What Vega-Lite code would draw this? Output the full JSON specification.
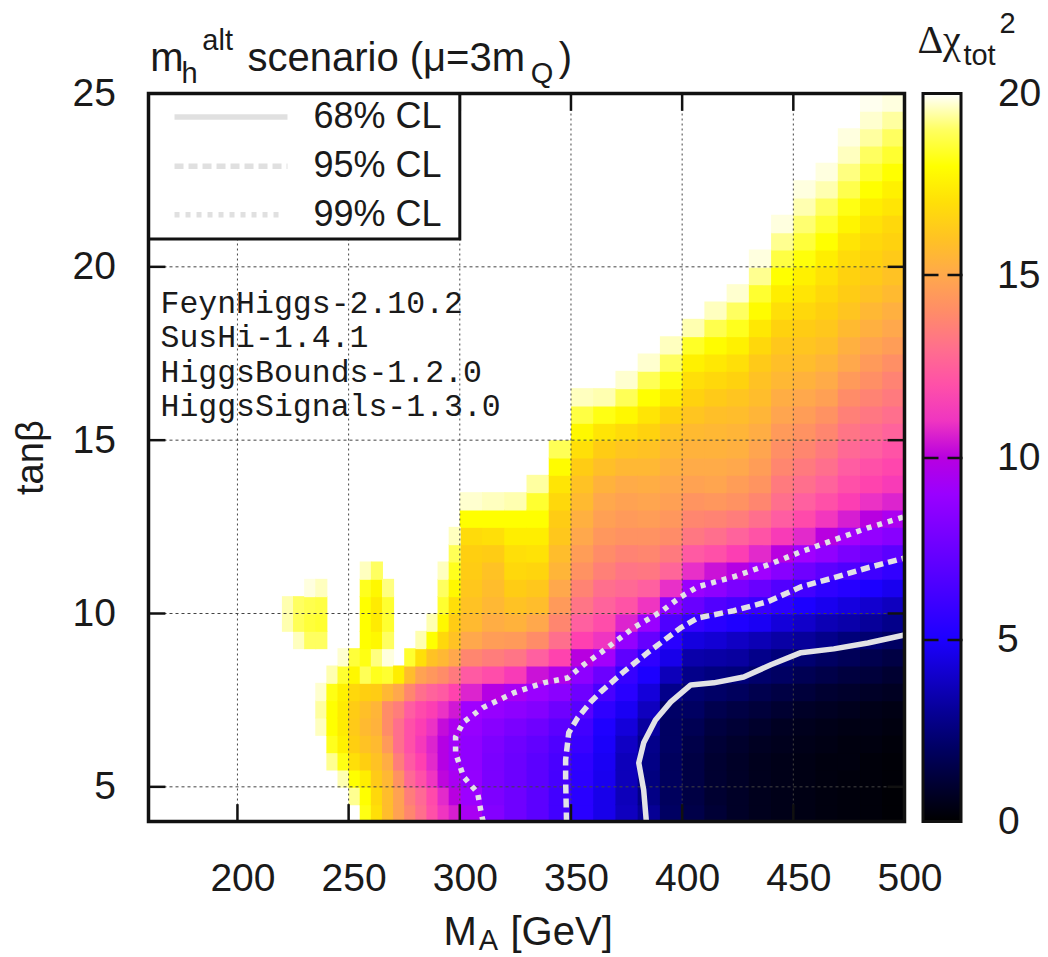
{"$schema":"https://vega.github.io/schema/vega-lite/v6.json","width":756,"height":728,"autosize":"none","padding":{"left":148.5,"top":93.5,"right":143.5,"bottom":135.5},"background":"white","config":{"view":{"stroke":null},"font":"Liberation Sans"},"resolve":{"axis":{"y":"independent"}},
"datasets":{
"fine":[
{"m":220,"t":9.5,"c":19.5},{"m":220,"t":10,"c":19.5},
{"m":225,"t":9,"c":19.6},{"m":225,"t":9.5,"c":18.9},{"m":225,"t":10,"c":19},
{"m":230,"t":9,"c":19},{"m":230,"t":9.5,"c":18.6},{"m":230,"t":10,"c":18.8},{"m":230,"t":10.5,"c":19.8},
{"m":235,"t":9,"c":19},{"m":235,"t":9.5,"c":18.5},{"m":235,"t":10,"c":18.7},{"m":235,"t":10.5,"c":19.6},
{"m":235,"t":6.5,"c":19.6},{"m":235,"t":7,"c":19.4},{"m":235,"t":7.5,"c":19.7},
{"m":240,"t":5.5,"c":19.3},{"m":240,"t":6,"c":18.3},{"m":240,"t":6.5,"c":18},{"m":240,"t":7,"c":18},{"m":240,"t":7.5,"c":18.2},{"m":240,"t":8,"c":19.5},
{"m":245,"t":5,"c":19.5},{"m":245,"t":5.5,"c":18.2},{"m":245,"t":6,"c":17.6},{"m":245,"t":6.5,"c":17.4},{"m":245,"t":7,"c":17.4},{"m":245,"t":7.5,"c":17.6},{"m":245,"t":8,"c":18.5},{"m":245,"t":8.5,"c":19.7},
{"m":250,"t":4.5,"c":19.3},{"m":250,"t":5,"c":18},{"m":250,"t":5.5,"c":17},{"m":250,"t":6,"c":16.5},{"m":250,"t":6.5,"c":16.3},{"m":250,"t":7,"c":16.4},{"m":250,"t":7.5,"c":16.8},{"m":250,"t":8,"c":17.8},{"m":250,"t":8.5,"c":18.6},
{"m":255,"t":4,"c":18.2},{"m":255,"t":4.5,"c":18},{"m":255,"t":5,"c":17.5},{"m":255,"t":5.5,"c":16.5},{"m":255,"t":6,"c":16},{"m":255,"t":6.5,"c":15.7},{"m":255,"t":7,"c":15.9},{"m":255,"t":7.5,"c":16.5},{"m":255,"t":8,"c":18.9},{"m":255,"t":8.5,"c":18.2},{"m":255,"t":9,"c":18},{"m":255,"t":9.5,"c":18},{"m":255,"t":10,"c":18},{"m":255,"t":10.5,"c":18.3},{"m":255,"t":11,"c":19.6},
{"m":260,"t":4,"c":17},{"m":260,"t":4.5,"c":16.8},{"m":260,"t":5,"c":16.3},{"m":260,"t":5.5,"c":16},{"m":260,"t":6,"c":15.7},{"m":260,"t":6.5,"c":15.4},{"m":260,"t":7,"c":15.5},{"m":260,"t":7.5,"c":16.4},{"m":260,"t":8,"c":18.3},{"m":260,"t":8.5,"c":19.2},{"m":260,"t":9,"c":17.8},{"m":260,"t":9.5,"c":17.4},{"m":260,"t":10,"c":17.4},{"m":260,"t":10.5,"c":17.8},{"m":260,"t":11,"c":19},
{"m":265,"t":4,"c":15.8},{"m":265,"t":4.5,"c":15.8},{"m":265,"t":5,"c":15.6},{"m":265,"t":5.5,"c":15.2},{"m":265,"t":6,"c":14.5},{"m":265,"t":6.5,"c":14},{"m":265,"t":7,"c":14},{"m":265,"t":7.5,"c":15.6},{"m":265,"t":8,"c":18.5},{"m":265,"t":8.5,"c":19.8},{"m":265,"t":9,"c":19},{"m":265,"t":9.5,"c":18.5},{"m":265,"t":10,"c":18.5},{"m":265,"t":10.5,"c":19.2},
{"m":270,"t":4,"c":14.8},{"m":270,"t":4.5,"c":14.8},{"m":270,"t":5,"c":14.2},{"m":270,"t":5.5,"c":13.5},{"m":270,"t":6,"c":13},{"m":270,"t":6.5,"c":13},{"m":270,"t":7,"c":13.5},{"m":270,"t":7.5,"c":15},{"m":270,"t":8,"c":17.5},
{"m":275,"t":4,"c":13.8},{"m":275,"t":4.5,"c":13.5},{"m":275,"t":5,"c":12.8},{"m":275,"t":5.5,"c":12.3},{"m":275,"t":6,"c":12},{"m":275,"t":6.5,"c":12},{"m":275,"t":7,"c":12.4},{"m":275,"t":7.5,"c":13.8},{"m":275,"t":8,"c":15.8},{"m":275,"t":8.5,"c":18.5},
{"m":280,"t":4,"c":13},{"m":280,"t":4.5,"c":12.8},{"m":280,"t":5,"c":12},{"m":280,"t":5.5,"c":11.5},{"m":280,"t":6,"c":11.2},{"m":280,"t":6.5,"c":11.4},{"m":280,"t":7,"c":11.8},{"m":280,"t":7.5,"c":13},{"m":280,"t":8,"c":14.8},{"m":280,"t":8.5,"c":17},{"m":280,"t":9,"c":19.5},
{"m":285,"t":4,"c":12},{"m":285,"t":4.5,"c":11.8},{"m":285,"t":5,"c":11},{"m":285,"t":5.5,"c":10.7},{"m":285,"t":6,"c":10.6},{"m":285,"t":6.5,"c":10.9},{"m":285,"t":7,"c":11.4},{"m":285,"t":7.5,"c":12.6},{"m":285,"t":8,"c":14.4},{"m":285,"t":8.5,"c":16},{"m":285,"t":9,"c":18},{"m":285,"t":9.5,"c":19.5},
{"m":290,"t":4,"c":11},{"m":290,"t":4.5,"c":10.7},{"m":290,"t":5,"c":10.1},{"m":290,"t":5.5,"c":9.9},{"m":290,"t":6,"c":9.9},{"m":290,"t":6.5,"c":10.2},{"m":290,"t":7,"c":10.9},{"m":290,"t":7.5,"c":12.3},{"m":290,"t":8,"c":14},{"m":290,"t":8.5,"c":15.6},{"m":290,"t":9,"c":16.8},{"m":290,"t":9.5,"c":17.8},{"m":290,"t":10,"c":18.5},{"m":290,"t":10.5,"c":19},{"m":290,"t":11,"c":19.6},
{"m":295,"t":4,"c":10.5},{"m":295,"t":4.5,"c":10},{"m":295,"t":5,"c":9.5},{"m":295,"t":5.5,"c":9.3},{"m":295,"t":6,"c":9.3},{"m":295,"t":6.5,"c":9.6},{"m":295,"t":7,"c":10.4},{"m":295,"t":7.5,"c":11.6},{"m":295,"t":8,"c":13.4},{"m":295,"t":8.5,"c":15},{"m":295,"t":9,"c":16},{"m":295,"t":9.5,"c":16.4},{"m":295,"t":10,"c":17},{"m":295,"t":10.5,"c":17.8},{"m":295,"t":11,"c":18.3},{"m":295,"t":11.5,"c":18.9},{"m":295,"t":12,"c":19.6}
],
"coarse":[
{"m":300,"t":4,"c":9.5},{"m":300,"t":4.5,"c":9.1},{"m":300,"t":5,"c":8.8},{"m":300,"t":5.5,"c":8.7},{"m":300,"t":6,"c":8.7},{"m":300,"t":6.5,"c":8.9},{"m":300,"t":7,"c":9.2},{"m":300,"t":7.5,"c":10.6},{"m":300,"t":8,"c":12.3},{"m":300,"t":8.5,"c":13.8},{"m":300,"t":9,"c":15},{"m":300,"t":9.5,"c":15.7},{"m":300,"t":10,"c":16},{"m":300,"t":10.5,"c":16.2},{"m":300,"t":11,"c":16.4},{"m":300,"t":11.5,"c":16.5},{"m":300,"t":12,"c":16.9},{"m":300,"t":12.5,"c":18},{"m":300,"t":13,"c":19.7},
{"m":310,"t":4,"c":8.3},{"m":310,"t":4.5,"c":8.1},{"m":310,"t":5,"c":8},{"m":310,"t":5.5,"c":8},{"m":310,"t":6,"c":8.1},{"m":310,"t":6.5,"c":8.4},{"m":310,"t":7,"c":8.9},{"m":310,"t":7.5,"c":9.9},{"m":310,"t":8,"c":11.9},{"m":310,"t":8.5,"c":13.5},{"m":310,"t":9,"c":14.6},{"m":310,"t":9.5,"c":15.2},{"m":310,"t":10,"c":15.6},{"m":310,"t":10.5,"c":15.8},{"m":310,"t":11,"c":16},{"m":310,"t":11.5,"c":16.4},{"m":310,"t":12,"c":17},{"m":310,"t":12.5,"c":18},{"m":310,"t":13,"c":19.6},
{"m":320,"t":4,"c":7.6},{"m":320,"t":4.5,"c":7.6},{"m":320,"t":5,"c":7.5},{"m":320,"t":5.5,"c":7.5},{"m":320,"t":6,"c":7.6},{"m":320,"t":6.5,"c":8},{"m":320,"t":7,"c":8.6},{"m":320,"t":7.5,"c":9.5},{"m":320,"t":8,"c":11.3},{"m":320,"t":8.5,"c":13.2},{"m":320,"t":9,"c":14.5},{"m":320,"t":9.5,"c":15.4},{"m":320,"t":10,"c":16},{"m":320,"t":10.5,"c":16.4},{"m":320,"t":11,"c":16.8},{"m":320,"t":11.5,"c":17},{"m":320,"t":12,"c":17.5},{"m":320,"t":12.5,"c":18},{"m":320,"t":13,"c":19.5},
{"m":330,"t":4,"c":7},{"m":330,"t":4.5,"c":7},{"m":330,"t":5,"c":7},{"m":330,"t":5.5,"c":7},{"m":330,"t":6,"c":7.2},{"m":330,"t":6.5,"c":7.6},{"m":330,"t":7,"c":8.3},{"m":330,"t":7.5,"c":9},{"m":330,"t":8,"c":10.3},{"m":330,"t":8.5,"c":12.5},{"m":330,"t":9,"c":14},{"m":330,"t":9.5,"c":15},{"m":330,"t":10,"c":15.8},{"m":330,"t":10.5,"c":16.2},{"m":330,"t":11,"c":16.7},{"m":330,"t":11.5,"c":17.1},{"m":330,"t":12,"c":17.5},{"m":330,"t":12.5,"c":18},{"m":330,"t":13,"c":18.5},{"m":330,"t":13.5,"c":19.4},
{"m":340,"t":4,"c":6.2},{"m":340,"t":4.5,"c":6.2},{"m":340,"t":5,"c":6.3},{"m":340,"t":5.5,"c":6.4},{"m":340,"t":6,"c":6.6},{"m":340,"t":6.5,"c":7},{"m":340,"t":7,"c":7.6},{"m":340,"t":7.5,"c":8.5},{"m":340,"t":8,"c":9.8},{"m":340,"t":8.5,"c":11.6},{"m":340,"t":9,"c":13},{"m":340,"t":9.5,"c":13.8},{"m":340,"t":10,"c":14.5},{"m":340,"t":10.5,"c":15},{"m":340,"t":11,"c":15.5},{"m":340,"t":11.5,"c":15.8},{"m":340,"t":12,"c":16.2},{"m":340,"t":12.5,"c":16.4},{"m":340,"t":13,"c":16.8},{"m":340,"t":13.5,"c":17.2},{"m":340,"t":14,"c":17.9},{"m":340,"t":14.5,"c":18.9},
{"m":350,"t":4,"c":5.4},{"m":350,"t":4.5,"c":5.4},{"m":350,"t":5,"c":5.5},{"m":350,"t":5.5,"c":5.6},{"m":350,"t":6,"c":5.9},{"m":350,"t":6.5,"c":6.2},{"m":350,"t":7,"c":6.9},{"m":350,"t":7.5,"c":7.6},{"m":350,"t":8,"c":8.6},{"m":350,"t":8.5,"c":10},{"m":350,"t":9,"c":11.5},{"m":350,"t":9.5,"c":12.5},{"m":350,"t":10,"c":13.2},{"m":350,"t":10.5,"c":13.7},{"m":350,"t":11,"c":14.2},{"m":350,"t":11.5,"c":14.6},{"m":350,"t":12,"c":15},{"m":350,"t":12.5,"c":15.3},{"m":350,"t":13,"c":15.7},{"m":350,"t":13.5,"c":16},{"m":350,"t":14,"c":16.4},{"m":350,"t":14.5,"c":17},{"m":350,"t":15,"c":17.8},{"m":350,"t":15.5,"c":18.7},{"m":350,"t":16,"c":19.6},
{"m":360,"t":4,"c":4.6},{"m":360,"t":4.5,"c":4.6},{"m":360,"t":5,"c":4.7},{"m":360,"t":5.5,"c":4.8},{"m":360,"t":6,"c":4.9},{"m":360,"t":6.5,"c":5.1},{"m":360,"t":7,"c":5.6},{"m":360,"t":7.5,"c":6.4},{"m":360,"t":8,"c":7.5},{"m":360,"t":8.5,"c":9.3},{"m":360,"t":9,"c":11},{"m":360,"t":9.5,"c":11.9},{"m":360,"t":10,"c":12.6},{"m":360,"t":10.5,"c":13},{"m":360,"t":11,"c":13.6},{"m":360,"t":11.5,"c":14},{"m":360,"t":12,"c":14.4},{"m":360,"t":12.5,"c":14.7},{"m":360,"t":13,"c":15},{"m":360,"t":13.5,"c":15.4},{"m":360,"t":14,"c":15.9},{"m":360,"t":14.5,"c":16.4},{"m":360,"t":15,"c":17.2},{"m":360,"t":15.5,"c":18.2},{"m":360,"t":16,"c":19.5},
{"m":370,"t":4,"c":3.8},{"m":370,"t":4.5,"c":3.7},{"m":370,"t":5,"c":3.7},{"m":370,"t":5.5,"c":3.7},{"m":370,"t":6,"c":3.9},{"m":370,"t":6.5,"c":4.3},{"m":370,"t":7,"c":4.8},{"m":370,"t":7.5,"c":5.4},{"m":370,"t":8,"c":5.8},{"m":370,"t":8.5,"c":7.1},{"m":370,"t":9,"c":8.8},{"m":370,"t":9.5,"c":10.6},{"m":370,"t":10,"c":12.1},{"m":370,"t":10.5,"c":12.8},{"m":370,"t":11,"c":13.2},{"m":370,"t":11.5,"c":13.7},{"m":370,"t":12,"c":14.2},{"m":370,"t":12.5,"c":14.5},{"m":370,"t":13,"c":14.8},{"m":370,"t":13.5,"c":15.1},{"m":370,"t":14,"c":15.6},{"m":370,"t":14.5,"c":16.1},{"m":370,"t":15,"c":16.9},{"m":370,"t":15.5,"c":17.8},{"m":370,"t":16,"c":18.9},{"m":370,"t":16.5,"c":19.7},
{"m":380,"t":4,"c":3},{"m":380,"t":4.5,"c":2.7},{"m":380,"t":5,"c":2.6},{"m":380,"t":5.5,"c":2.7},{"m":380,"t":6,"c":2.8},{"m":380,"t":6.5,"c":3.2},{"m":380,"t":7,"c":3.8},{"m":380,"t":7.5,"c":4.3},{"m":380,"t":8,"c":5},{"m":380,"t":8.5,"c":5.6},{"m":380,"t":9,"c":7.3},{"m":380,"t":9.5,"c":9},{"m":380,"t":10,"c":11},{"m":380,"t":10.5,"c":12.5},{"m":380,"t":11,"c":13.3},{"m":380,"t":11.5,"c":13.8},{"m":380,"t":12,"c":14.2},{"m":380,"t":12.5,"c":14.6},{"m":380,"t":13,"c":14.9},{"m":380,"t":13.5,"c":15.2},{"m":380,"t":14,"c":15.6},{"m":380,"t":14.5,"c":16},{"m":380,"t":15,"c":16.6},{"m":380,"t":15.5,"c":17.2},{"m":380,"t":16,"c":18},{"m":380,"t":16.5,"c":18.9},{"m":380,"t":17,"c":19.7},
{"m":390,"t":4,"c":2},{"m":390,"t":4.5,"c":1.9},{"m":390,"t":5,"c":1.9},{"m":390,"t":5.5,"c":1.9},{"m":390,"t":6,"c":2},{"m":390,"t":6.5,"c":2},{"m":390,"t":7,"c":2.1},{"m":390,"t":7.5,"c":2.8},{"m":390,"t":8,"c":3.7},{"m":390,"t":8.5,"c":4.6},{"m":390,"t":9,"c":5.4},{"m":390,"t":9.5,"c":6.6},{"m":390,"t":10,"c":8.6},{"m":390,"t":10.5,"c":10.8},{"m":390,"t":11,"c":12.7},{"m":390,"t":11.5,"c":13.4},{"m":390,"t":12,"c":14},{"m":390,"t":12.5,"c":14.4},{"m":390,"t":13,"c":14.7},{"m":390,"t":13.5,"c":15},{"m":390,"t":14,"c":15.3},{"m":390,"t":14.5,"c":15.6},{"m":390,"t":15,"c":16},{"m":390,"t":15.5,"c":16.6},{"m":390,"t":16,"c":17.4},{"m":390,"t":16.5,"c":18.2},{"m":390,"t":17,"c":19},{"m":390,"t":17.5,"c":19.6},
{"m":400,"t":4,"c":1.5},{"m":400,"t":4.5,"c":1.4},{"m":400,"t":5,"c":1.4},{"m":400,"t":5.5,"c":1.4},{"m":400,"t":6,"c":1.5},{"m":400,"t":6.5,"c":1.7},{"m":400,"t":7,"c":2},{"m":400,"t":7.5,"c":2.3},{"m":400,"t":8,"c":2.8},{"m":400,"t":8.5,"c":3.4},{"m":400,"t":9,"c":4.4},{"m":400,"t":9.5,"c":5.8},{"m":400,"t":10,"c":7.4},{"m":400,"t":10.5,"c":9},{"m":400,"t":11,"c":10.8},{"m":400,"t":11.5,"c":12.3},{"m":400,"t":12,"c":13.3},{"m":400,"t":12.5,"c":13.8},{"m":400,"t":13,"c":14.3},{"m":400,"t":13.5,"c":14.8},{"m":400,"t":14,"c":15.1},{"m":400,"t":14.5,"c":15.4},{"m":400,"t":15,"c":15.7},{"m":400,"t":15.5,"c":16.1},{"m":400,"t":16,"c":16.6},{"m":400,"t":16.5,"c":17},{"m":400,"t":17,"c":17.6},{"m":400,"t":17.5,"c":18.4},{"m":400,"t":18,"c":19.5},
{"m":410,"t":4,"c":1.1},{"m":410,"t":4.5,"c":1},{"m":410,"t":5,"c":1},{"m":410,"t":5.5,"c":1},{"m":410,"t":6,"c":1.1},{"m":410,"t":6.5,"c":1.3},{"m":410,"t":7,"c":1.6},{"m":410,"t":7.5,"c":2.1},{"m":410,"t":8,"c":2.6},{"m":410,"t":8.5,"c":3.3},{"m":410,"t":9,"c":4.2},{"m":410,"t":9.5,"c":5.4},{"m":410,"t":10,"c":6.7},{"m":410,"t":10.5,"c":8.6},{"m":410,"t":11,"c":10.3},{"m":410,"t":11.5,"c":12},{"m":410,"t":12,"c":13},{"m":410,"t":12.5,"c":13.7},{"m":410,"t":13,"c":14.4},{"m":410,"t":13.5,"c":14.9},{"m":410,"t":14,"c":15.1},{"m":410,"t":14.5,"c":15.4},{"m":410,"t":15,"c":15.6},{"m":410,"t":15.5,"c":15.9},{"m":410,"t":16,"c":16.3},{"m":410,"t":16.5,"c":16.8},{"m":410,"t":17,"c":17.3},{"m":410,"t":17.5,"c":17.9},{"m":410,"t":18,"c":18.8},{"m":410,"t":18.5,"c":19.6},
{"m":420,"t":4,"c":0.8},{"m":420,"t":4.5,"c":0.8},{"m":420,"t":5,"c":0.8},{"m":420,"t":5.5,"c":0.8},{"m":420,"t":6,"c":0.9},{"m":420,"t":6.5,"c":1.1},{"m":420,"t":7,"c":1.4},{"m":420,"t":7.5,"c":1.9},{"m":420,"t":8,"c":2.5},{"m":420,"t":8.5,"c":3.2},{"m":420,"t":9,"c":3.9},{"m":420,"t":9.5,"c":5.1},{"m":420,"t":10,"c":6.3},{"m":420,"t":10.5,"c":8},{"m":420,"t":11,"c":9.9},{"m":420,"t":11.5,"c":11.4},{"m":420,"t":12,"c":12.6},{"m":420,"t":12.5,"c":13.5},{"m":420,"t":13,"c":14.2},{"m":420,"t":13.5,"c":14.6},{"m":420,"t":14,"c":15},{"m":420,"t":14.5,"c":15.3},{"m":420,"t":15,"c":15.5},{"m":420,"t":15.5,"c":15.8},{"m":420,"t":16,"c":16.1},{"m":420,"t":16.5,"c":16.6},{"m":420,"t":17,"c":17},{"m":420,"t":17.5,"c":17.6},{"m":420,"t":18,"c":18.3},{"m":420,"t":18.5,"c":19},{"m":420,"t":19,"c":19.7},
{"m":430,"t":4,"c":0.6},{"m":430,"t":4.5,"c":0.6},{"m":430,"t":5,"c":0.6},{"m":430,"t":5.5,"c":0.6},{"m":430,"t":6,"c":0.7},{"m":430,"t":6.5,"c":0.9},{"m":430,"t":7,"c":1.2},{"m":430,"t":7.5,"c":1.6},{"m":430,"t":8,"c":2.2},{"m":430,"t":8.5,"c":2.8},{"m":430,"t":9,"c":3.6},{"m":430,"t":9.5,"c":4.8},{"m":430,"t":10,"c":5.9},{"m":430,"t":10.5,"c":7.4},{"m":430,"t":11,"c":9.2},{"m":430,"t":11.5,"c":10.7},{"m":430,"t":12,"c":12.1},{"m":430,"t":12.5,"c":13},{"m":430,"t":13,"c":13.8},{"m":430,"t":13.5,"c":14.3},{"m":430,"t":14,"c":14.6},{"m":430,"t":14.5,"c":14.9},{"m":430,"t":15,"c":15.2},{"m":430,"t":15.5,"c":15.5},{"m":430,"t":16,"c":15.8},{"m":430,"t":16.5,"c":16},{"m":430,"t":17,"c":16.3},{"m":430,"t":17.5,"c":16.8},{"m":430,"t":18,"c":17.3},{"m":430,"t":18.5,"c":17.9},{"m":430,"t":19,"c":18.5},{"m":430,"t":19.5,"c":19.3},{"m":430,"t":20,"c":19.8},
{"m":440,"t":4,"c":0.5},{"m":440,"t":4.5,"c":0.5},{"m":440,"t":5,"c":0.5},{"m":440,"t":5.5,"c":0.5},{"m":440,"t":6,"c":0.6},{"m":440,"t":6.5,"c":0.7},{"m":440,"t":7,"c":1},{"m":440,"t":7.5,"c":1.4},{"m":440,"t":8,"c":2},{"m":440,"t":8.5,"c":2.5},{"m":440,"t":9,"c":3.3},{"m":440,"t":9.5,"c":4.3},{"m":440,"t":10,"c":5.5},{"m":440,"t":10.5,"c":6.7},{"m":440,"t":11,"c":8.4},{"m":440,"t":11.5,"c":10},{"m":440,"t":12,"c":11.3},{"m":440,"t":12.5,"c":12.4},{"m":440,"t":13,"c":13},{"m":440,"t":13.5,"c":13.4},{"m":440,"t":14,"c":13.8},{"m":440,"t":14.5,"c":14.1},{"m":440,"t":15,"c":14.5},{"m":440,"t":15.5,"c":14.9},{"m":440,"t":16,"c":15.2},{"m":440,"t":16.5,"c":15.6},{"m":440,"t":17,"c":15.9},{"m":440,"t":17.5,"c":16.2},{"m":440,"t":18,"c":16.6},{"m":440,"t":18.5,"c":17},{"m":440,"t":19,"c":17.5},{"m":440,"t":19.5,"c":18},{"m":440,"t":20,"c":18.7},{"m":440,"t":20.5,"c":19.3},{"m":440,"t":21,"c":19.8},
{"m":450,"t":4,"c":0.4},{"m":450,"t":4.5,"c":0.4},{"m":450,"t":5,"c":0.4},{"m":450,"t":5.5,"c":0.4},{"m":450,"t":6,"c":0.5},{"m":450,"t":6.5,"c":0.6},{"m":450,"t":7,"c":0.8},{"m":450,"t":7.5,"c":1.2},{"m":450,"t":8,"c":1.7},{"m":450,"t":8.5,"c":2.3},{"m":450,"t":9,"c":3.1},{"m":450,"t":9.5,"c":4},{"m":450,"t":10,"c":5},{"m":450,"t":10.5,"c":6.2},{"m":450,"t":11,"c":7.6},{"m":450,"t":11.5,"c":9.2},{"m":450,"t":12,"c":10.7},{"m":450,"t":12.5,"c":11.8},{"m":450,"t":13,"c":12.5},{"m":450,"t":13.5,"c":13},{"m":450,"t":14,"c":13.4},{"m":450,"t":14.5,"c":13.8},{"m":450,"t":15,"c":14.2},{"m":450,"t":15.5,"c":14.6},{"m":450,"t":16,"c":15},{"m":450,"t":16.5,"c":15.4},{"m":450,"t":17,"c":15.8},{"m":450,"t":17.5,"c":16.1},{"m":450,"t":18,"c":16.4},{"m":450,"t":18.5,"c":16.8},{"m":450,"t":19,"c":17.2},{"m":450,"t":19.5,"c":17.6},{"m":450,"t":20,"c":18.1},{"m":450,"t":20.5,"c":18.6},{"m":450,"t":21,"c":19.1},{"m":450,"t":21.5,"c":19.5},{"m":450,"t":22,"c":19.8},
{"m":460,"t":4,"c":0.3},{"m":460,"t":4.5,"c":0.3},{"m":460,"t":5,"c":0.3},{"m":460,"t":5.5,"c":0.3},{"m":460,"t":6,"c":0.4},{"m":460,"t":6.5,"c":0.5},{"m":460,"t":7,"c":0.7},{"m":460,"t":7.5,"c":1},{"m":460,"t":8,"c":1.5},{"m":460,"t":8.5,"c":2},{"m":460,"t":9,"c":2.8},{"m":460,"t":9.5,"c":3.6},{"m":460,"t":10,"c":4.7},{"m":460,"t":10.5,"c":5.6},{"m":460,"t":11,"c":7},{"m":460,"t":11.5,"c":8.7},{"m":460,"t":12,"c":10},{"m":460,"t":12.5,"c":11.1},{"m":460,"t":13,"c":12},{"m":460,"t":13.5,"c":12.6},{"m":460,"t":14,"c":13},{"m":460,"t":14.5,"c":13.4},{"m":460,"t":15,"c":13.8},{"m":460,"t":15.5,"c":14.2},{"m":460,"t":16,"c":14.7},{"m":460,"t":16.5,"c":15.1},{"m":460,"t":17,"c":15.5},{"m":460,"t":17.5,"c":15.9},{"m":460,"t":18,"c":16.2},{"m":460,"t":18.5,"c":16.5},{"m":460,"t":19,"c":16.8},{"m":460,"t":19.5,"c":17.1},{"m":460,"t":20,"c":17.5},{"m":460,"t":20.5,"c":18},{"m":460,"t":21,"c":18.5},{"m":460,"t":21.5,"c":19},{"m":460,"t":22,"c":19.5},{"m":460,"t":22.5,"c":19.8},
{"m":470,"t":4,"c":0.25},{"m":470,"t":4.5,"c":0.25},{"m":470,"t":5,"c":0.25},{"m":470,"t":5.5,"c":0.3},{"m":470,"t":6,"c":0.3},{"m":470,"t":6.5,"c":0.4},{"m":470,"t":7,"c":0.6},{"m":470,"t":7.5,"c":0.9},{"m":470,"t":8,"c":1.3},{"m":470,"t":8.5,"c":1.8},{"m":470,"t":9,"c":2.5},{"m":470,"t":9.5,"c":3.4},{"m":470,"t":10,"c":4.4},{"m":470,"t":10.5,"c":5.3},{"m":470,"t":11,"c":6.6},{"m":470,"t":11.5,"c":8},{"m":470,"t":12,"c":9.3},{"m":470,"t":12.5,"c":10.5},{"m":470,"t":13,"c":11.4},{"m":470,"t":13.5,"c":12},{"m":470,"t":14,"c":12.4},{"m":470,"t":14.5,"c":12.8},{"m":470,"t":15,"c":13.2},{"m":470,"t":15.5,"c":13.6},{"m":470,"t":16,"c":14},{"m":470,"t":16.5,"c":14.5},{"m":470,"t":17,"c":15},{"m":470,"t":17.5,"c":15.3},{"m":470,"t":18,"c":15.7},{"m":470,"t":18.5,"c":16.1},{"m":470,"t":19,"c":16.4},{"m":470,"t":19.5,"c":16.6},{"m":470,"t":20,"c":16.9},{"m":470,"t":20.5,"c":17.2},{"m":470,"t":21,"c":17.7},{"m":470,"t":21.5,"c":18.2},{"m":470,"t":22,"c":18.8},{"m":470,"t":22.5,"c":19.2},{"m":470,"t":23,"c":19.6},{"m":470,"t":23.5,"c":19.8},
{"m":480,"t":4,"c":0.2},{"m":480,"t":4.5,"c":0.2},{"m":480,"t":5,"c":0.2},{"m":480,"t":5.5,"c":0.2},{"m":480,"t":6,"c":0.3},{"m":480,"t":6.5,"c":0.4},{"m":480,"t":7,"c":0.5},{"m":480,"t":7.5,"c":0.8},{"m":480,"t":8,"c":1.2},{"m":480,"t":8.5,"c":1.6},{"m":480,"t":9,"c":2.3},{"m":480,"t":9.5,"c":3.1},{"m":480,"t":10,"c":4.1},{"m":480,"t":10.5,"c":5},{"m":480,"t":11,"c":6.1},{"m":480,"t":11.5,"c":7.5},{"m":480,"t":12,"c":8.8},{"m":480,"t":12.5,"c":10},{"m":480,"t":13,"c":10.9},{"m":480,"t":13.5,"c":11.6},{"m":480,"t":14,"c":12},{"m":480,"t":14.5,"c":12.5},{"m":480,"t":15,"c":12.9},{"m":480,"t":15.5,"c":13.3},{"m":480,"t":16,"c":13.7},{"m":480,"t":16.5,"c":14.1},{"m":480,"t":17,"c":14.5},{"m":480,"t":17.5,"c":14.9},{"m":480,"t":18,"c":15.3},{"m":480,"t":18.5,"c":15.6},{"m":480,"t":19,"c":16},{"m":480,"t":19.5,"c":16.3},{"m":480,"t":20,"c":16.6},{"m":480,"t":20.5,"c":16.8},{"m":480,"t":21,"c":17.1},{"m":480,"t":21.5,"c":17.5},{"m":480,"t":22,"c":18},{"m":480,"t":22.5,"c":18.5},{"m":480,"t":23,"c":19},{"m":480,"t":23.5,"c":19.4},{"m":480,"t":24,"c":19.7},{"m":480,"t":24.5,"c":19.9},
{"m":490,"t":4,"c":0.1},{"m":490,"t":4.5,"c":0.1},{"m":490,"t":5,"c":0.15},{"m":490,"t":5.5,"c":0.15},{"m":490,"t":6,"c":0.2},{"m":490,"t":6.5,"c":0.3},{"m":490,"t":7,"c":0.4},{"m":490,"t":7.5,"c":0.7},{"m":490,"t":8,"c":1},{"m":490,"t":8.5,"c":1.4},{"m":490,"t":9,"c":2},{"m":490,"t":9.5,"c":2.8},{"m":490,"t":10,"c":3.8},{"m":490,"t":10.5,"c":4.7},{"m":490,"t":11,"c":5.7},{"m":490,"t":11.5,"c":7},{"m":490,"t":12,"c":8.4},{"m":490,"t":12.5,"c":9.6},{"m":490,"t":13,"c":10.6},{"m":490,"t":13.5,"c":11.3},{"m":490,"t":14,"c":11.7},{"m":490,"t":14.5,"c":12.1},{"m":490,"t":15,"c":12.6},{"m":490,"t":15.5,"c":13},{"m":490,"t":16,"c":13.4},{"m":490,"t":16.5,"c":13.7},{"m":490,"t":17,"c":14.1},{"m":490,"t":17.5,"c":14.6},{"m":490,"t":18,"c":15},{"m":490,"t":18.5,"c":15.3},{"m":490,"t":19,"c":15.7},{"m":490,"t":19.5,"c":16},{"m":490,"t":20,"c":16.3},{"m":490,"t":20.5,"c":16.6},{"m":490,"t":21,"c":16.8},{"m":490,"t":21.5,"c":17.2},{"m":490,"t":22,"c":17.6},{"m":490,"t":22.5,"c":18},{"m":490,"t":23,"c":18.5},{"m":490,"t":23.5,"c":19},{"m":490,"t":24,"c":19.4},{"m":490,"t":24.5,"c":19.8}
],
"c68":[{"i":1,"m":383.9,"t":4},{"i":2,"m":382.7,"t":4.91},{"i":3,"m":380.5,"t":5.69},{"i":4,"m":382.7,"t":6.27},{"i":5,"m":388,"t":6.93},{"i":6,"m":394.9,"t":7.45},{"i":7,"m":403.9,"t":7.94},{"i":8,"m":414.2,"t":8},{"i":9,"m":427.7,"t":8.17},{"i":10,"m":439.9,"t":8.52},{"i":11,"m":453.4,"t":8.87},{"i":12,"m":468.2,"t":8.98},{"i":13,"m":483.5,"t":9.15},{"i":14,"m":500,"t":9.38}],
"c95":[{"i":1,"m":348,"t":4},{"i":2,"m":347.6,"t":5.2},{"i":3,"m":347.6,"t":5.78},{"i":4,"m":349,"t":6.56},{"i":5,"m":353,"t":6.99},{"i":6,"m":358.9,"t":7.45},{"i":7,"m":363.4,"t":7.74},{"i":8,"m":373.7,"t":8.32},{"i":9,"m":384.5,"t":8.87},{"i":10,"m":399.4,"t":9.59},{"i":11,"m":407,"t":9.87},{"i":12,"m":423.2,"t":10.08},{"i":13,"m":438.5,"t":10.34},{"i":14,"m":453.4,"t":10.77},{"i":15,"m":468.2,"t":11.03},{"i":16,"m":483.5,"t":11.32},{"i":17,"m":500,"t":11.6}],
"c99":[{"i":1,"m":310.5,"t":4},{"i":2,"m":309.8,"t":4.19},{"i":3,"m":308,"t":4.83},{"i":4,"m":301.7,"t":5.29},{"i":5,"m":298.1,"t":5.98},{"i":6,"m":298.1,"t":6.44},{"i":7,"m":301.7,"t":6.87},{"i":8,"m":310.3,"t":7.28},{"i":9,"m":324.2,"t":7.71},{"i":10,"m":337.7,"t":8},{"i":11,"m":348.5,"t":8.14},{"i":12,"m":355.7,"t":8.52},{"i":13,"m":363.4,"t":8.87},{"i":14,"m":378.2,"t":9.59},{"i":15,"m":390.4,"t":10.05},{"i":16,"m":399.4,"t":10.48},{"i":17,"m":407,"t":10.77},{"i":18,"m":423.2,"t":11.06},{"i":19,"m":438.5,"t":11.4},{"i":20,"m":453.4,"t":11.78},{"i":21,"m":468.2,"t":12.12},{"i":22,"m":483.5,"t":12.47},{"i":23,"m":500,"t":12.79}],
"xt":[{"v":200},{"v":250},{"v":300},{"v":350},{"v":400},{"v":450}],
"yt":[{"v":5},{"v":10},{"v":15},{"v":20}],
"bar":[{"t":9.24},{"t":14.49},{"t":19.77}]
},
"layer":[
{"data":{"name":"coarse"},"mark":{"type":"rect","clip":true,"binSpacing":-1},"encoding":{
"x":{"field":"m","type":"quantitative","bin":{"binned":true,"step":10},"scale":{"domain":[160,500],"nice":false,"zero":false},"axis":{"title":null,"values":[200,250,300,350,400,450,500],"ticks":false,"domain":false,"grid":false,"labelFontSize":39,"labelPadding":38,"labelOffset":5,"labelColor":"#1a1a1a","labelFont":"Liberation Sans","labelFlush":false,"labelBound":false,"labelOverlap":false,"format":"d"}},
"y":{"field":"t","type":"quantitative","bin":{"binned":true,"step":0.5},"scale":{"domain":[4,25],"nice":false,"zero":false},"axis":{"orient":"left","title":null,"values":[5,10,15,20,25],"ticks":false,"domain":false,"grid":false,"labelFontSize":39,"labelPadding":33,"labelColor":"#1a1a1a","labelFont":"Liberation Sans","labelBound":false,"labelOverlap":false,"format":"d"}},
"color":{"field":"c","type":"quantitative","scale":{"domain":[0,2.5,5,7.5,9.2,10,10.8,11.5,12.5,14,15,16.5,17.5,18,19,20],"range":["#000000","#00007a","#1c00ff","#6c00ff","#a000ff","#b800e0","#e830c8","#ff40b0","#ff60a0","#ff8c68","#ffa84c","#ffcf10","#ffee00","#ffff00","#ffff60","#ffffff"],"interpolate":"rgb"},"legend":{"type":"gradient","title":null,"orient":"none","legendX":774.5,"legendY":0,"gradientLength":728,"gradientThickness":38,"gradientStrokeColor":"#111111","gradientStrokeWidth":3,"values":[0,5,10,15,20],"labelExpr":"datum.value==0||datum.value==20?'':datum.label","labelFontSize":39,"labelColor":"#1a1a1a","labelFont":"Liberation Sans","labelOffset":36,"labelOverlap":false,"padding":0}}
}},
{"data":{"name":"fine"},"mark":{"type":"rect","clip":true,"binSpacing":-1},"encoding":{
"x":{"field":"m","type":"quantitative","bin":{"binned":true,"step":5}},
"y":{"field":"t","type":"quantitative","bin":{"binned":true,"step":0.5},"axis":null},
"color":{"field":"c","type":"quantitative"}
}},
{"data":{"name":"xt"},"mark":{"type":"rule","color":"#444444","strokeWidth":1,"strokeDash":[2,3]},"encoding":{"x":{"field":"v","type":"quantitative"}}},
{"data":{"name":"yt"},"mark":{"type":"rule","color":"#444444","strokeWidth":1,"strokeDash":[3,3]},"encoding":{"y":{"field":"v","type":"quantitative","axis":null}}},
{"data":{"name":"c68"},"mark":{"type":"line","color":"#e2e2e6","strokeWidth":5.5,"strokeJoin":"round","clip":true},"encoding":{"x":{"field":"m","type":"quantitative"},"y":{"field":"t","type":"quantitative","axis":null},"order":{"field":"i","type":"quantitative"}}},
{"data":{"name":"c95"},"mark":{"type":"line","color":"#e2e2e6","strokeWidth":5.5,"strokeDash":[9,5],"clip":true},"encoding":{"x":{"field":"m","type":"quantitative"},"y":{"field":"t","type":"quantitative","axis":null},"order":{"field":"i","type":"quantitative"}}},
{"data":{"name":"c99"},"mark":{"type":"line","color":"#e2e2e6","strokeWidth":5.5,"strokeDash":[5,6],"clip":true},"encoding":{"x":{"field":"m","type":"quantitative"},"y":{"field":"t","type":"quantitative","axis":null},"order":{"field":"i","type":"quantitative"}}},
{"data":{"name":"xt"},"mark":{"type":"rule","color":"#111111","strokeWidth":2.5},"encoding":{"x":{"field":"v","type":"quantitative"},"y":{"datum":4,"type":"quantitative","axis":null},"y2":{"datum":4.5}}},
{"data":{"name":"xt"},"mark":{"type":"rule","color":"#111111","strokeWidth":2.5},"encoding":{"x":{"field":"v","type":"quantitative"},"y":{"datum":25,"type":"quantitative","axis":null},"y2":{"datum":24.5}}},
{"data":{"name":"yt"},"mark":{"type":"rule","color":"#111111","strokeWidth":2.5},"encoding":{"y":{"field":"v","type":"quantitative","axis":null},"x":{"datum":160,"type":"quantitative"},"x2":{"datum":167.6}}},
{"data":{"name":"yt"},"mark":{"type":"rule","color":"#111111","strokeWidth":2.5},"encoding":{"y":{"field":"v","type":"quantitative","axis":null},"x":{"datum":500,"type":"quantitative"},"x2":{"datum":492.4}}},
{"data":{"values":[{"a":160,"b":300,"c":20.8,"d":25}]},"mark":{"type":"rect","fill":"white","stroke":"#111111","strokeWidth":3},"encoding":{"x":{"field":"a","type":"quantitative"},"x2":{"field":"b"},"y":{"field":"c","type":"quantitative","axis":null},"y2":{"field":"d"}}},
{"data":{"values":[{"a":160,"b":500,"c":4,"d":25}]},"mark":{"type":"rect","fill":null,"stroke":"#111111","strokeWidth":3.5},"encoding":{"x":{"field":"a","type":"quantitative"},"x2":{"field":"b"},"y":{"field":"c","type":"quantitative","axis":null},"y2":{"field":"d"}}},
{"data":{"values":[{"a":171.7,"b":222.5,"t":24.32}]},"mark":{"type":"rule","color":"#e0e0e0","strokeWidth":5.5},"encoding":{"x":{"field":"a","type":"quantitative"},"x2":{"field":"b"},"y":{"field":"t","type":"quantitative","axis":null}}},
{"data":{"values":[{"a":171.7,"b":222.5,"t":22.9}]},"mark":{"type":"rule","color":"#e0e0e0","strokeWidth":5.5,"strokeDash":[9,5]},"encoding":{"x":{"field":"a","type":"quantitative"},"x2":{"field":"b"},"y":{"field":"t","type":"quantitative","axis":null}}},
{"data":{"values":[{"a":171.7,"b":220.7,"t":21.5}]},"mark":{"type":"rule","color":"#e0e0e0","strokeWidth":5.5,"strokeDash":[5,6]},"encoding":{"x":{"field":"a","type":"quantitative"},"x2":{"field":"b"},"y":{"field":"t","type":"quantitative","axis":null}}},
{"data":{"name":"bar"},"mark":{"type":"rule","strokeOpacity":0},"encoding":{"y":{"field":"t","type":"quantitative","axis":{"orient":"right","offset":18.5,"values":[9.24,14.49,19.77],"title":null,"labels":false,"domain":false,"grid":false,"ticks":true,"tickSize":39,"tickColor":"#111111","tickWidth":2.5,"tickDash":[15,9,15],"zindex":1}}}},
{"data":{"values":[{"s":"68% CL","m":234.2,"t":24.32},{"s":"95% CL","m":234.2,"t":22.9},{"s":"99% CL","m":234.2,"t":21.5}]},"mark":{"type":"text","align":"left","baseline":"middle","fontSize":36,"font":"Liberation Sans","color":"#1a1a1a"},"encoding":{"text":{"field":"s"},"x":{"field":"m","type":"quantitative"},"y":{"field":"t","type":"quantitative","axis":null}}},
{"data":{"values":[{"s":"0","m":542,"t":4},{"s":"20","m":542,"t":25}]},"mark":{"type":"text","align":"left","baseline":"middle","fontSize":39,"font":"Liberation Sans","color":"#1a1a1a"},"encoding":{"text":{"field":"s"},"x":{"field":"m","type":"quantitative"},"y":{"field":"t","type":"quantitative","axis":null}}},
{"data":{"values":[{"s":"FeynHiggs-2.10.2","m":165.4,"t":18.67},{"s":"SusHi-1.4.1","m":165.4,"t":17.69},{"s":"HiggsBounds-1.2.0","m":165.4,"t":16.68},{"s":"HiggsSignals-1.3.0","m":165.4,"t":15.7}]},"mark":{"type":"text","align":"left","baseline":"alphabetic","fontSize":31.5,"font":"Liberation Mono","color":"#1a1a1a"},"encoding":{"text":{"field":"s"},"x":{"field":"m","type":"quantitative"},"y":{"field":"t","type":"quantitative","axis":null}}},
{"data":{"values":[{"s":"m","m":160.8,"t":25.65},{"s":"scenario (μ=3m","m":204.5,"t":25.65},{"s":")","m":344.5,"t":25.65},{"s":"M","m":292.7,"t":0.44},{"s":"[GeV]","m":322.8,"t":0.44}]},"mark":{"type":"text","align":"left","baseline":"alphabetic","fontSize":40,"font":"Liberation Sans","color":"#1a1a1a"},"encoding":{"text":{"field":"s"},"x":{"field":"m","type":"quantitative"},"y":{"field":"t","type":"quantitative","axis":null}}},
{"data":{"values":[{"s":"h","m":174.8,"t":25.31},{"s":"alt","m":184.2,"t":26.26},{"s":"Q","m":331.9,"t":25.31},{"s":"A","m":308.5,"t":0.3},{"s":"tot","m":526.5,"t":25.82},{"s":"2","m":542.7,"t":26.75}]},"mark":{"type":"text","align":"left","baseline":"alphabetic","fontSize":29,"font":"Liberation Sans","color":"#1a1a1a"},"encoding":{"text":{"field":"s"},"x":{"field":"m","type":"quantitative"},"y":{"field":"t","type":"quantitative","axis":null}}},
{"data":{"values":[{"s":"Δχ","m":505.8,"t":26.17}]},"mark":{"type":"text","align":"left","baseline":"alphabetic","fontSize":40,"font":"Liberation Serif","color":"#1a1a1a"},"encoding":{"text":{"field":"s"},"x":{"field":"m","type":"quantitative"},"y":{"field":"t","type":"quantitative","axis":null}}},
{"data":{"values":[{"s":"tanβ","m":112.7,"t":13.42}]},"mark":{"type":"text","align":"left","baseline":"alphabetic","angle":270,"fontSize":38,"font":"Liberation Sans","color":"#1a1a1a"},"encoding":{"text":{"field":"s"},"x":{"field":"m","type":"quantitative"},"y":{"field":"t","type":"quantitative","axis":null}}}
]}
